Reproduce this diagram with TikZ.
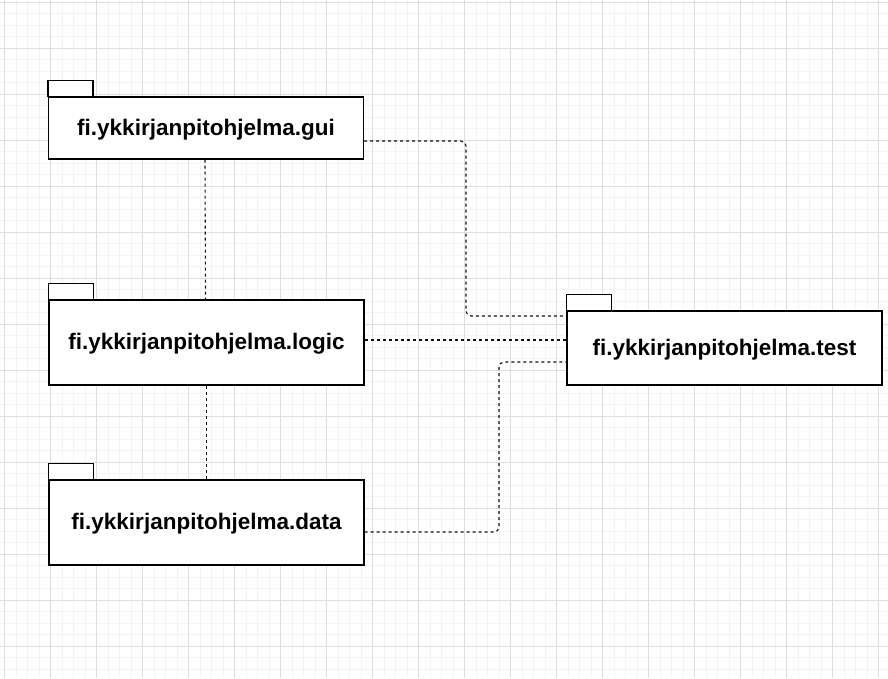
\documentclass[tikz,border=0pt]{standalone}
\usepackage{fontspec}
\setmainfont{Liberation Sans}
\definecolor{gridminor}{HTML}{F3F3F3}
\definecolor{gridmajor}{HTML}{DEDEDE}
\definecolor{depline}{HTML}{111111}
\begin{document}
\begin{tikzpicture}[x=1pt,y=-1pt,
  pkg/.style={draw=black, line width=1.3pt, fill=white, inner sep=0pt,
    minimum width=315pt, font=\fontsize{22.5}{27}\selectfont\bfseries},
  pkglabel/.style={font=\fontsize{22.5}{27}\selectfont\bfseries, inner sep=0pt},
  pkgtab/.style={draw=black, line width=1.3pt, fill=white},
  dep/.style={draw=depline, line width=1.1pt, dash pattern=on 3pt off 3pt, rounded corners=5pt},
  minorline/.style={draw=gridminor, line width=0.8pt},
  majorline/.style={draw=gridmajor, line width=0.9pt}]
\useasboundingbox (0,0) rectangle (888,678);
\fill[white] (0,0) rectangle (888,678);
% grid
\foreach \i in {0,...,77} {
  \draw[minorline] ({4.7+11.5*\i},0) -- ({4.7+11.5*\i},678);
}
\foreach \i in {0,...,59} {
  \draw[minorline] (0,{2.3+11.5*\i}) -- (888,{2.3+11.5*\i});
}
\foreach \i in {0,...,19} {
  \draw[majorline] ({4.7+46*\i},0) -- ({4.7+46*\i},678);
}
\foreach \i in {0,...,14} {
  \draw[majorline] (0,{2.3+46*\i}) -- (888,{2.3+46*\i});
}
% packages
\node[pkg, minimum height=62pt, text depth=0pt, text height=0pt] (gui) at (206,128) {};
\node[pkg, minimum height=85pt] (logic) at (206.5,342.5) {};
\node[pkg, minimum height=85pt] (data) at (206.5,522.5) {};
\node[pkg, minimum height=74pt] (test) at (724.5,348) {};
\node[pkglabel] (guilabel) at ([yshift=-2pt]gui.center) {fi.ykkirjanpitohjelma.gui};
\node[pkglabel] (logiclabel) at ([yshift=-1.5pt]logic.center) {fi.ykkirjanpitohjelma.logic};
\node[pkglabel] (datalabel) at ([yshift=-1.5pt]data.center) {fi.ykkirjanpitohjelma.data};
\node[pkglabel] (testlabel) at ([yshift=-2pt]test.center) {fi.ykkirjanpitohjelma.test};
\draw[pkgtab] (gui.north west) rectangle ++(45,-16);
\draw[pkgtab] (logic.north west) rectangle ++(45,-16);
\draw[pkgtab] (data.north west) rectangle ++(45,-16);
\draw[pkgtab] (test.north west) rectangle ++(45,-16);
% dependencies
\draw[dep] ([xshift=-1pt]gui.south) -- ([xshift=-1pt]logic.north);
\draw[dep] (logic.south) -- (data.north);
\draw[dep] ([yshift=-13pt]gui.east) -- (466,141) -- (466,316) -- ([yshift=32pt]test.west);
\draw[dep] ([yshift=2.5pt]logic.east) -- ([yshift=2.5pt]logic.east -| test.west);
\draw[dep] ([yshift=-9.5pt]data.east) -- (499,532) -- (499,362) -- ([yshift=-14pt]test.west);
\end{tikzpicture}
\end{document}
